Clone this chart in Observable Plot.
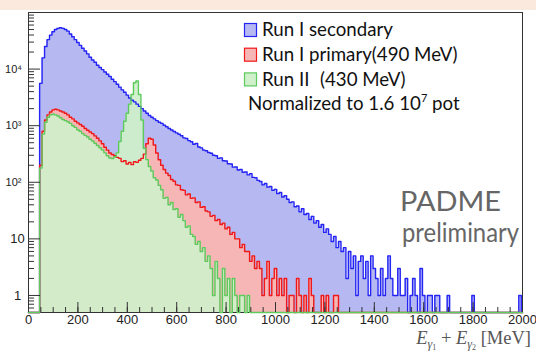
<!DOCTYPE html>
<html><head><meta charset="utf-8">
<script src="https://cdn.jsdelivr.net/npm/d3@7"></script>
<script src="https://cdn.jsdelivr.net/npm/@observablehq/plot@0.6"></script>
<style>
html,body{margin:0;padding:0;background:#fff;}
#wrap{position:relative;width:536px;height:351px;overflow:hidden;}
#band{position:absolute;left:0;top:0;width:536px;height:10px;background:#fbe9dd;}
#wrap svg{position:absolute;left:0;top:0;}
</style></head><body><div id="wrap"><div id="band"></div></div>
<script>
// Histogram binning (MeV): bins of 10 MeV starting at 45 MeV
const binStart = 45;
const binWidth = 10;

// Run I secondary (blue), bin centres 50,60,...,1990
const runISecondary = [
  5600, 15800, 25100, 33100, 39800, 45700, 50100, 52500, 53700, 52500,
  50100, 46800, 41700, 37200, 33100, 29500, 26300, 23400, 20900, 18600,
  16200, 14500, 13200, 11700, 10700, 9800, 8900, 8100, 7400, 6600,
  6000, 5400, 4800, 4300, 3900, 3470, 3090, 2820, 2630, 2400,
  2190, 2000, 1820, 1660, 1510, 1410, 1320, 1230, 1150, 1100,
  1020, 955, 890, 840, 790, 745, 705, 665, 610, 595,
  545, 520, 470, 485, 420, 405, 370, 360, 335, 325,
  300, 295, 265, 270, 240, 238, 212, 210, 185, 186,
  165, 168, 150, 152, 135, 142, 122, 120, 108, 103,
  90, 95, 82, 84, 72, 75, 63, 66, 55, 58,
  50, 44, 45, 37, 38, 30, 34, 27, 28, 22,
  25, 19, 21, 16, 18, 13, 15, 12, 9, 11,
  7, 9, 6, 7, 2, 6, 3, 5, 1, 4,
  5, 2, 4, 1, 5, 3, 2, 1, 3, 1,
  2, 5, 2, 1, 1, 3, 1, 1, 2, 0,
  1, 2, 1, 0, 3, 1, 0, 1, 1, 0,
  1, 1, 0, 0, 0, 1, 0, 0, 0, 0,
  0, 0, 0, 0, 0, 1, 0, 0, 0, 0,
  0, 0, 0, 0, 0, 0, 0, 0, 0, 0,
  0, 0, 0, 0, 1
];

// Run I primary 490 MeV (red), bin centres 50..1250
const runIPrimary = [
  200, 795, 1260, 1550, 1740, 1900, 1950, 1900, 1820, 1740,
  1660, 1550, 1410, 1320, 1200, 1120, 1050, 980, 890, 830,
  775, 725, 660, 600, 540, 480, 415, 370, 330, 310,
  295, 275, 265, 232, 240, 210, 225, 205, 230, 225,
  245, 265, 315, 480, 600, 575, 455, 330, 250, 200,
  168, 145, 132, 112, 104, 90, 88, 74, 72, 60,
  62, 52, 53, 44, 45, 36, 37, 31, 30, 25,
  26, 21, 22, 18, 19, 15, 16, 12, 13, 10,
  10, 7, 8, 6, 6, 4, 5, 3, 4, 3,
  1, 2, 4, 1, 2, 3, 1, 2, 1, 2,
  0, 1, 1, 0, 2, 1, 0, 1, 0, 2,
  1, 0, 0, 0, 1, 0, 1, 0, 0, 1,
  1
];

// Run II 430 MeV (green), bin centres 50..890
const runII = [
  178, 710, 1150, 1410, 1550, 1590, 1550, 1480, 1380, 1290,
  1230, 1175, 1100, 1000, 933, 850, 795, 725, 675, 630,
  575, 537, 490, 447, 407, 372, 331, 295, 269, 263,
  282, 331, 525, 795, 1200, 1660, 2400, 3550, 5750, 6150,
  3550, 1260, 400, 251, 190, 158, 120, 110, 88, 74,
  52, 54, 40, 44, 33, 34, 24, 27, 21, 16,
  17, 12, 11, 8, 9, 6, 7, 4, 5, 3,
  1, 4, 2, 0, 3, 1, 2, 0, 2, 1,
  0, 1, 1, 0, 1
];

const seriesLabels = ["Run I secondary", "Run I primary(490 MeV)", "Run II", "(430 MeV)"];
const noteLabel = ["Normalized to 1.6 10", "7", " pot"];
const xMajorTicks = [0, 200, 400, 600, 800, 1000, 1200, 1400, 1600, 1800, 2000];
const xMinorTicks = d3.range(0, 2001, 50);
const yMajorTicks = [1, 10, 100, 1000, 10000, 100000];
const yPowerTicks = [100, 1000, 10000];
const yPowerLabels = ["10²", "10³", "10⁴"];
const yPlainTicks = [1, 10];
const yMinorTicks = [0.6,0.7,0.8,0.9].concat(...[1,10,100,1000,10000].map(d => [2,3,4,5,6,7,8,9].map(k => k*d)));

const FLOOR = 0.5;
function stepPoints(values) {
  const pts = [{x: 0, y: FLOOR}];
  values.forEach((v, i) => pts.push({x: binStart + i * binWidth, y: Math.max(v, FLOOR)}));
  pts.push({x: binStart + values.length * binWidth, y: FLOOR});
  pts.push({x: 2000, y: FLOOR});
  return pts;
}
const bluePts = stepPoints(runISecondary);
const redPts = stepPoints(runIPrimary);
const greenPts = stepPoints(runII);

const blueLine = "#2424f4", redLine = "#f01818", greenLine = "#5ccb5c";
const blueFill = "#b6b8f2", redFill = "#f6b6b6", greenFill = "#cff0cb";

const chart = Plot.plot({
  width: 536, height: 351,
  marginLeft: 28, marginRight: 14, marginTop: 12, marginBottom: 39,
  style: {background: "transparent", fontFamily: "'Liberation Sans', Arial, sans-serif", color: "#222"},
  x: {domain: [0, 2000]},
  y: {type: "log", domain: [0.5, 100000]},
  marks: [
    Plot.frame({stroke: "#333"}),
    Plot.areaY(bluePts, {x: "x", y1: FLOOR, y2: "y", curve: "step-after", fill: blueFill}),
    Plot.areaY(redPts, {x: "x", y1: FLOOR, y2: "y", curve: "step-after", fill: redFill}),
    Plot.areaY(greenPts, {x: "x", y1: FLOOR, y2: "y", curve: "step-after", fill: greenFill, fillOpacity: 0.92}),
    Plot.lineY(bluePts, {x: "x", y: "y", curve: "step-after", stroke: blueLine, strokeWidth: 1.4}),
    Plot.lineY(redPts, {x: "x", y: "y", curve: "step-after", stroke: redLine, strokeWidth: 1.4}),
    Plot.lineY(greenPts, {x: "x", y: "y", curve: "step-after", stroke: greenLine, strokeWidth: 1.4}),
    Plot.axisX({ticks: xMinorTicks, tickSize: -5, tickFormat: () => "", label: null, stroke: "#333"}),
    Plot.axisX({ticks: xMajorTicks, tickSize: -10, tickFormat: () => "", label: null, stroke: "#333"}),
    Plot.axisX({ticks: xMajorTicks, tickSize: 0, tickPadding: 2, tickFormat: d => String(d), fontSize: 13, label: null, fill: "#222"}),
    Plot.axisY({ticks: yMinorTicks, tickSize: -6, tickFormat: () => "", label: null, stroke: "#333"}),
    Plot.axisY({ticks: yMajorTicks, tickSize: -12, tickFormat: () => "", label: null, stroke: "#333"}),
    Plot.axisY({ticks: yPowerTicks, tickSize: 0, tickPadding: 15, textAnchor: "middle", fontSize: 11,
      tickFormat: d => yPowerLabels[yPowerTicks.indexOf(d)], label: null, fill: "#222"}),
    Plot.axisY({ticks: yPlainTicks, tickSize: 0, tickPadding: 11, textAnchor: "middle", fontSize: 13,
      tickFormat: d => String(d), label: null, fill: "#222"})
  ]
});

document.getElementById("wrap").appendChild(chart);
const svg = d3.select(chart);

// Legend
const lg = svg.append("g").attr("font-family", "Lato, 'Open Sans', sans-serif").attr("font-size", 18.7)
  .attr("fill", "#111").attr("text-anchor", "start");
const items = [[blueFill, blueLine], [redFill, redLine], [greenFill, greenLine]];
items.forEach(([f, c], i) => {
  lg.append("rect").attr("x", 244.5).attr("y", 23.5 + 24.7 * i).attr("width", 12).attr("height", 13)
    .attr("fill", f).attr("stroke", c).attr("stroke-width", 1.2);
});
lg.append("text").attr("x", 262).attr("y", 36).text(seriesLabels[0]);
lg.append("text").attr("x", 262).attr("y", 61).text(seriesLabels[1]);
lg.append("text").attr("x", 262).attr("y", 86).text(seriesLabels[2]);
lg.append("text").attr("x", 320).attr("y", 86).text(seriesLabels[3]);
const nt = lg.append("text").attr("x", 248).attr("y", 110);
nt.append("tspan").text(noteLabel[0]);
nt.append("tspan").attr("font-size", 11).attr("dy", -8).text(noteLabel[1]);
nt.append("tspan").attr("dy", 8).text(noteLabel[2]);

// PADME preliminary
const pg = svg.append("g").attr("font-family", "Lato, sans-serif").attr("fill", "#666").attr("text-anchor", "start");
pg.append("text").attr("x", 400).attr("y", 211).attr("font-size", 26).attr("textLength", 101).attr("lengthAdjust", "spacingAndGlyphs").text("PADME");
pg.append("text").attr("x", 402).attr("y", 242).attr("font-size", 26).attr("textLength", 117).attr("lengthAdjust", "spacingAndGlyphs").text("preliminary");

// Axis title
const at = svg.append("text").attr("x", 531).attr("y", 344).attr("text-anchor", "end")
  .attr("font-family", "'Liberation Serif', 'DejaVu Serif', serif")
  .attr("font-size", 18.5).attr("fill", "#555");
at.append("tspan").attr("font-style", "italic").text("E");
at.append("tspan").attr("font-style", "italic").attr("font-size", 12).attr("dy", 4).text("γ");
at.append("tspan").attr("font-size", 8).attr("dy", 2).text("1");
at.append("tspan").attr("dy", -6).text(" + ");
at.append("tspan").attr("font-style", "italic").text("E");
at.append("tspan").attr("font-style", "italic").attr("font-size", 12).attr("dy", 4).text("γ");
at.append("tspan").attr("font-size", 8).attr("dy", 2).text("2");
at.append("tspan").attr("dy", -6).text(" [MeV]");
</script></body></html>
